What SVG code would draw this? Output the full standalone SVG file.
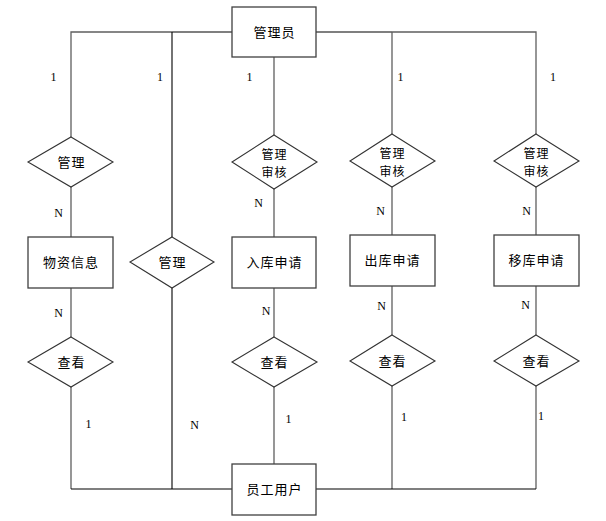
<svg xmlns="http://www.w3.org/2000/svg" width="606" height="521" viewBox="0 0 606 521">
<style>
.bg{fill:#fff}
.ent{fill:#fff;stroke:#404040;stroke-width:1.3}
.rel{fill:#fff;stroke:#333;stroke-width:1.1}
.g{fill:none;stroke:#5f5f5f;stroke-width:1.3}
.k{fill:none;stroke:#000;stroke-width:1.1}
.t{font-family:"Noto Sans CJK SC","Noto Sans CJK JP",sans-serif;font-size:13px;fill:#000;text-anchor:middle;letter-spacing:1px}
.t2{font-size:12px}
.c{font-family:"Liberation Serif",serif;font-size:12px;fill:#000;text-anchor:middle}
</style>
<rect class="bg" x="0" y="0" width="606" height="521"/>
<g id="connectors">
<path class="g" d="M71,137 V32 H172"/>
<path class="k" d="M172,32 H232"/>
<path class="k" d="M316,32 H392"/>
<path class="g" d="M392,32 H536 V134"/>
<path class="g" d="M392,32 V134"/>
<path class="k" d="M172,32 V237"/>
<path class="g" d="M274,57 V135"/>
<path class="g" d="M71,187 V237"/>
<path class="g" d="M71,288 V337"/>
<path class="g" d="M274,189 V237"/>
<path class="g" d="M274,288 V337"/>
<path class="g" d="M392,187 V235"/>
<path class="g" d="M392,286 V335"/>
<path class="g" d="M536,187 V235"/>
<path class="g" d="M536,286 V335"/>
<path class="g" d="M71,387 V489"/>
<path class="k" d="M172,288 V489"/>
<path class="g" d="M274,387 V464"/>
<path class="g" d="M392,386 V489"/>
<path class="g" d="M536,386 V489"/>
<path class="k" d="M71,489 H232"/>
<path class="k" d="M316,489 H536"/>
</g>
<g id="labels">
<text class="c" x="53.5" y="81">1</text>
<text class="c" x="160" y="81">1</text>
<text class="c" x="249.5" y="81">1</text>
<text class="c" x="400.5" y="81">1</text>
<text class="c" x="553" y="81">1</text>
<text class="c" x="58.5" y="217">N</text>
<text class="c" x="258.5" y="207">N</text>
<text class="c" x="380.5" y="215">N</text>
<text class="c" x="526.5" y="215">N</text>
<text class="c" x="58.5" y="317">N</text>
<text class="c" x="266" y="315">N</text>
<text class="c" x="381.5" y="310">N</text>
<text class="c" x="525.5" y="309">N</text>
<text class="c" x="88.5" y="428">1</text>
<text class="c" x="194.5" y="429">N</text>
<text class="c" x="288.5" y="423">1</text>
<text class="c" x="404" y="421">1</text>
<text class="c" x="541" y="420">1</text>
</g>
<g id="admin"><rect class="ent" x="232" y="7" width="84" height="50"/><text class="t" x="274.5" y="37">管理员</text></g>
<g id="rel-manage1"><polygon class="rel" points="71,137 113,162 71,187 28,162"/><text class="t" x="71.5" y="167">管理</text></g>
<g id="rel-audit1"><polygon class="rel" points="274,135 317,162 274,189 232,162"/><text class="t t2" x="274.5" y="158.5">管理</text><text class="t t2" x="274.5" y="176.5">审核</text></g>
<g id="rel-audit2"><polygon class="rel" points="392,134 435,161 392,187 350,161"/><text class="t t2" x="392.5" y="157.5">管理</text><text class="t t2" x="392.5" y="175.5">审核</text></g>
<g id="rel-audit3"><polygon class="rel" points="536,134 579,161 536,187 494,161"/><text class="t t2" x="536.5" y="157.5">管理</text><text class="t t2" x="536.5" y="175.5">审核</text></g>
<g id="materials"><rect class="ent" x="28" y="237" width="85" height="51"/><text class="t" x="71" y="267">物资信息</text></g>
<g id="rel-manage2"><polygon class="rel" points="172,237 214,262 172,288 130,262"/><text class="t" x="172.5" y="267">管理</text></g>
<g id="inbound"><rect class="ent" x="232" y="237" width="84" height="51"/><text class="t" x="274.5" y="267">入库申请</text></g>
<g id="outbound"><rect class="ent" x="350" y="235" width="85" height="51"/><text class="t" x="392.5" y="265">出库申请</text></g>
<g id="transfer"><rect class="ent" x="494" y="235" width="85" height="51"/><text class="t" x="536.5" y="265">移库申请</text></g>
<g id="view1"><polygon class="rel" points="71,337 113,362 71,387 28,362"/><text class="t" x="71.5" y="367">查看</text></g>
<g id="view2"><polygon class="rel" points="274,337 317,362 274,387 232,362"/><text class="t" x="274.5" y="367">查看</text></g>
<g id="view3"><polygon class="rel" points="392,335 435,361 392,386 350,361"/><text class="t" x="392.5" y="366">查看</text></g>
<g id="view4"><polygon class="rel" points="536,335 579,361 536,386 494,361"/><text class="t" x="536.5" y="366">查看</text></g>
<g id="staff"><rect class="ent" x="232" y="464" width="84" height="51"/><text class="t" x="274.5" y="494">员工用户</text></g>
</svg>
